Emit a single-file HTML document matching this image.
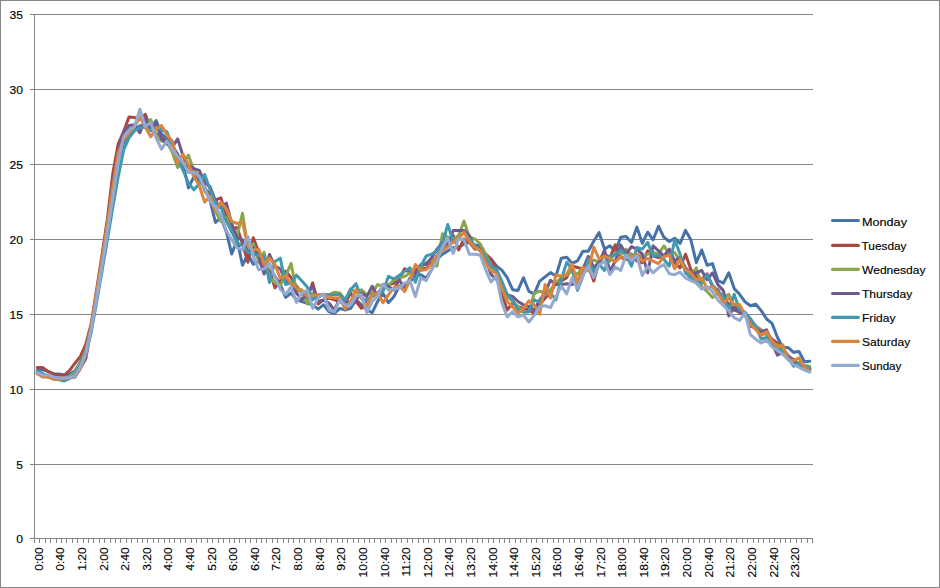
<!DOCTYPE html>
<html><head><meta charset="utf-8"><title>Chart</title>
<style>html,body{margin:0;padding:0;background:#fff}body{width:940px;height:588px;position:relative;overflow:hidden;font-family:"Liberation Sans",sans-serif}</style></head>
<body>
<svg width="940" height="588" viewBox="0 0 940 588" style="position:absolute;left:0;top:0;font-family:'Liberation Sans',sans-serif;font-size:11.4px">
<rect x="0" y="0" width="940" height="588" fill="#fff"/>
<g shape-rendering="crispEdges" fill="#868686">
<rect x="0" y="0" width="940" height="1"/><rect x="0" y="587" width="940" height="1"/><rect x="0" y="0" width="1" height="588"/><rect x="939" y="0" width="1" height="588"/>
<rect x="30" y="14" width="783" height="1"/>
<rect x="30" y="89" width="783" height="1"/>
<rect x="30" y="164" width="783" height="1"/>
<rect x="30" y="239" width="783" height="1"/>
<rect x="30" y="314" width="783" height="1"/>
<rect x="30" y="389" width="783" height="1"/>
<rect x="30" y="464" width="783" height="1"/>
<rect x="30" y="538" width="783" height="1"/>
<rect x="34" y="14" width="1" height="525"/>
<rect x="34" y="539" width="1" height="4"/>
<rect x="39" y="539" width="1" height="4"/>
<rect x="45" y="539" width="1" height="4"/>
<rect x="50" y="539" width="1" height="4"/>
<rect x="56" y="539" width="1" height="4"/>
<rect x="61" y="539" width="1" height="4"/>
<rect x="66" y="539" width="1" height="4"/>
<rect x="72" y="539" width="1" height="4"/>
<rect x="77" y="539" width="1" height="4"/>
<rect x="83" y="539" width="1" height="4"/>
<rect x="88" y="539" width="1" height="4"/>
<rect x="93" y="539" width="1" height="4"/>
<rect x="99" y="539" width="1" height="4"/>
<rect x="104" y="539" width="1" height="4"/>
<rect x="110" y="539" width="1" height="4"/>
<rect x="115" y="539" width="1" height="4"/>
<rect x="120" y="539" width="1" height="4"/>
<rect x="126" y="539" width="1" height="4"/>
<rect x="131" y="539" width="1" height="4"/>
<rect x="137" y="539" width="1" height="4"/>
<rect x="142" y="539" width="1" height="4"/>
<rect x="147" y="539" width="1" height="4"/>
<rect x="153" y="539" width="1" height="4"/>
<rect x="158" y="539" width="1" height="4"/>
<rect x="164" y="539" width="1" height="4"/>
<rect x="169" y="539" width="1" height="4"/>
<rect x="174" y="539" width="1" height="4"/>
<rect x="180" y="539" width="1" height="4"/>
<rect x="185" y="539" width="1" height="4"/>
<rect x="191" y="539" width="1" height="4"/>
<rect x="196" y="539" width="1" height="4"/>
<rect x="201" y="539" width="1" height="4"/>
<rect x="207" y="539" width="1" height="4"/>
<rect x="212" y="539" width="1" height="4"/>
<rect x="218" y="539" width="1" height="4"/>
<rect x="223" y="539" width="1" height="4"/>
<rect x="229" y="539" width="1" height="4"/>
<rect x="234" y="539" width="1" height="4"/>
<rect x="239" y="539" width="1" height="4"/>
<rect x="245" y="539" width="1" height="4"/>
<rect x="250" y="539" width="1" height="4"/>
<rect x="256" y="539" width="1" height="4"/>
<rect x="261" y="539" width="1" height="4"/>
<rect x="266" y="539" width="1" height="4"/>
<rect x="272" y="539" width="1" height="4"/>
<rect x="277" y="539" width="1" height="4"/>
<rect x="283" y="539" width="1" height="4"/>
<rect x="288" y="539" width="1" height="4"/>
<rect x="293" y="539" width="1" height="4"/>
<rect x="299" y="539" width="1" height="4"/>
<rect x="304" y="539" width="1" height="4"/>
<rect x="310" y="539" width="1" height="4"/>
<rect x="315" y="539" width="1" height="4"/>
<rect x="320" y="539" width="1" height="4"/>
<rect x="326" y="539" width="1" height="4"/>
<rect x="331" y="539" width="1" height="4"/>
<rect x="337" y="539" width="1" height="4"/>
<rect x="342" y="539" width="1" height="4"/>
<rect x="347" y="539" width="1" height="4"/>
<rect x="353" y="539" width="1" height="4"/>
<rect x="358" y="539" width="1" height="4"/>
<rect x="364" y="539" width="1" height="4"/>
<rect x="369" y="539" width="1" height="4"/>
<rect x="374" y="539" width="1" height="4"/>
<rect x="380" y="539" width="1" height="4"/>
<rect x="385" y="539" width="1" height="4"/>
<rect x="391" y="539" width="1" height="4"/>
<rect x="396" y="539" width="1" height="4"/>
<rect x="401" y="539" width="1" height="4"/>
<rect x="407" y="539" width="1" height="4"/>
<rect x="412" y="539" width="1" height="4"/>
<rect x="418" y="539" width="1" height="4"/>
<rect x="423" y="539" width="1" height="4"/>
<rect x="428" y="539" width="1" height="4"/>
<rect x="434" y="539" width="1" height="4"/>
<rect x="439" y="539" width="1" height="4"/>
<rect x="445" y="539" width="1" height="4"/>
<rect x="450" y="539" width="1" height="4"/>
<rect x="455" y="539" width="1" height="4"/>
<rect x="461" y="539" width="1" height="4"/>
<rect x="466" y="539" width="1" height="4"/>
<rect x="472" y="539" width="1" height="4"/>
<rect x="477" y="539" width="1" height="4"/>
<rect x="482" y="539" width="1" height="4"/>
<rect x="488" y="539" width="1" height="4"/>
<rect x="493" y="539" width="1" height="4"/>
<rect x="499" y="539" width="1" height="4"/>
<rect x="504" y="539" width="1" height="4"/>
<rect x="509" y="539" width="1" height="4"/>
<rect x="515" y="539" width="1" height="4"/>
<rect x="520" y="539" width="1" height="4"/>
<rect x="526" y="539" width="1" height="4"/>
<rect x="531" y="539" width="1" height="4"/>
<rect x="536" y="539" width="1" height="4"/>
<rect x="542" y="539" width="1" height="4"/>
<rect x="547" y="539" width="1" height="4"/>
<rect x="553" y="539" width="1" height="4"/>
<rect x="558" y="539" width="1" height="4"/>
<rect x="563" y="539" width="1" height="4"/>
<rect x="569" y="539" width="1" height="4"/>
<rect x="574" y="539" width="1" height="4"/>
<rect x="580" y="539" width="1" height="4"/>
<rect x="585" y="539" width="1" height="4"/>
<rect x="590" y="539" width="1" height="4"/>
<rect x="596" y="539" width="1" height="4"/>
<rect x="601" y="539" width="1" height="4"/>
<rect x="607" y="539" width="1" height="4"/>
<rect x="612" y="539" width="1" height="4"/>
<rect x="618" y="539" width="1" height="4"/>
<rect x="623" y="539" width="1" height="4"/>
<rect x="628" y="539" width="1" height="4"/>
<rect x="634" y="539" width="1" height="4"/>
<rect x="639" y="539" width="1" height="4"/>
<rect x="645" y="539" width="1" height="4"/>
<rect x="650" y="539" width="1" height="4"/>
<rect x="655" y="539" width="1" height="4"/>
<rect x="661" y="539" width="1" height="4"/>
<rect x="666" y="539" width="1" height="4"/>
<rect x="672" y="539" width="1" height="4"/>
<rect x="677" y="539" width="1" height="4"/>
<rect x="682" y="539" width="1" height="4"/>
<rect x="688" y="539" width="1" height="4"/>
<rect x="693" y="539" width="1" height="4"/>
<rect x="699" y="539" width="1" height="4"/>
<rect x="704" y="539" width="1" height="4"/>
<rect x="709" y="539" width="1" height="4"/>
<rect x="715" y="539" width="1" height="4"/>
<rect x="720" y="539" width="1" height="4"/>
<rect x="726" y="539" width="1" height="4"/>
<rect x="731" y="539" width="1" height="4"/>
<rect x="736" y="539" width="1" height="4"/>
<rect x="742" y="539" width="1" height="4"/>
<rect x="747" y="539" width="1" height="4"/>
<rect x="753" y="539" width="1" height="4"/>
<rect x="758" y="539" width="1" height="4"/>
<rect x="763" y="539" width="1" height="4"/>
<rect x="769" y="539" width="1" height="4"/>
<rect x="774" y="539" width="1" height="4"/>
<rect x="780" y="539" width="1" height="4"/>
<rect x="785" y="539" width="1" height="4"/>
<rect x="790" y="539" width="1" height="4"/>
<rect x="796" y="539" width="1" height="4"/>
<rect x="801" y="539" width="1" height="4"/>
<rect x="807" y="539" width="1" height="4"/>
<rect x="812" y="539" width="1" height="4"/>
</g>
<g fill="#000" stroke="#000" stroke-width="0.15" text-anchor="end">
<text transform="translate(23,18.6) scale(1.06,1)">35</text>
<text transform="translate(23,93.6) scale(1.06,1)">30</text>
<text transform="translate(23,168.6) scale(1.06,1)">25</text>
<text transform="translate(23,243.6) scale(1.06,1)">20</text>
<text transform="translate(23,318.6) scale(1.06,1)">15</text>
<text transform="translate(23,393.6) scale(1.06,1)">10</text>
<text transform="translate(23,468.6) scale(1.06,1)">5</text>
<text transform="translate(23,542.6) scale(1.06,1)">0</text>
</g>
<g fill="#000" stroke="#000" stroke-width="0.15" text-anchor="end">
<text transform="translate(42.7,547.3) rotate(-90) scale(1.06,1)">0:00</text>
<text transform="translate(64.3,547.3) rotate(-90) scale(1.06,1)">0:40</text>
<text transform="translate(85.9,547.3) rotate(-90) scale(1.06,1)">1:20</text>
<text transform="translate(107.5,547.3) rotate(-90) scale(1.06,1)">2:00</text>
<text transform="translate(129.1,547.3) rotate(-90) scale(1.06,1)">2:40</text>
<text transform="translate(150.8,547.3) rotate(-90) scale(1.06,1)">3:20</text>
<text transform="translate(172.4,547.3) rotate(-90) scale(1.06,1)">4:00</text>
<text transform="translate(194.0,547.3) rotate(-90) scale(1.06,1)">4:40</text>
<text transform="translate(215.6,547.3) rotate(-90) scale(1.06,1)">5:20</text>
<text transform="translate(237.2,547.3) rotate(-90) scale(1.06,1)">6:00</text>
<text transform="translate(258.8,547.3) rotate(-90) scale(1.06,1)">6:40</text>
<text transform="translate(280.4,547.3) rotate(-90) scale(1.06,1)">7:20</text>
<text transform="translate(302.0,547.3) rotate(-90) scale(1.06,1)">8:00</text>
<text transform="translate(323.6,547.3) rotate(-90) scale(1.06,1)">8:40</text>
<text transform="translate(345.3,547.3) rotate(-90) scale(1.06,1)">9:20</text>
<text transform="translate(366.9,547.3) rotate(-90) scale(1.06,1)">10:00</text>
<text transform="translate(388.5,547.3) rotate(-90) scale(1.06,1)">10:40</text>
<text transform="translate(410.1,547.3) rotate(-90) scale(1.06,1)">11:20</text>
<text transform="translate(431.7,547.3) rotate(-90) scale(1.06,1)">12:00</text>
<text transform="translate(453.3,547.3) rotate(-90) scale(1.06,1)">12:40</text>
<text transform="translate(474.9,547.3) rotate(-90) scale(1.06,1)">13:20</text>
<text transform="translate(496.5,547.3) rotate(-90) scale(1.06,1)">14:00</text>
<text transform="translate(518.1,547.3) rotate(-90) scale(1.06,1)">14:40</text>
<text transform="translate(539.8,547.3) rotate(-90) scale(1.06,1)">15:20</text>
<text transform="translate(561.4,547.3) rotate(-90) scale(1.06,1)">16:00</text>
<text transform="translate(583.0,547.3) rotate(-90) scale(1.06,1)">16:40</text>
<text transform="translate(604.6,547.3) rotate(-90) scale(1.06,1)">17:20</text>
<text transform="translate(626.2,547.3) rotate(-90) scale(1.06,1)">18:00</text>
<text transform="translate(647.8,547.3) rotate(-90) scale(1.06,1)">18:40</text>
<text transform="translate(669.4,547.3) rotate(-90) scale(1.06,1)">19:20</text>
<text transform="translate(691.0,547.3) rotate(-90) scale(1.06,1)">20:00</text>
<text transform="translate(712.6,547.3) rotate(-90) scale(1.06,1)">20:40</text>
<text transform="translate(734.3,547.3) rotate(-90) scale(1.06,1)">21:20</text>
<text transform="translate(755.9,547.3) rotate(-90) scale(1.06,1)">22:00</text>
<text transform="translate(777.5,547.3) rotate(-90) scale(1.06,1)">22:40</text>
<text transform="translate(799.1,547.3) rotate(-90) scale(1.06,1)">23:20</text>
</g>
<g fill="none" stroke-width="3" stroke-linejoin="round" stroke-linecap="round">
<polyline stroke="#4572A7" points="37.2,370.4 42.6,369.8 48.0,371.4 53.4,373.7 58.8,374.0 64.2,374.7 69.6,374.3 75.0,370.8 80.4,362.0 85.8,348.8 91.2,328.2 96.6,296.0 102.0,263.0 107.4,228.6 112.8,191.0 118.2,160.3 123.6,143.0 129.0,134.9 134.5,129.8 139.9,125.6 145.3,127.7 150.7,128.7 156.1,120.5 161.5,133.8 166.9,138.9 172.3,146.1 177.7,154.2 183.1,164.4 188.5,187.9 193.9,176.6 199.3,180.8 204.7,186.7 210.1,201.0 215.5,222.5 220.9,217.4 226.3,231.6 231.7,254.0 237.1,239.8 242.5,265.3 247.9,254.0 253.3,264.2 258.7,261.2 264.1,269.3 269.5,272.5 274.9,276.1 280.3,284.6 285.7,297.3 291.1,293.0 296.5,299.9 301.9,301.5 307.3,303.3 312.7,304.9 318.1,309.1 323.5,304.9 329.0,311.7 334.4,313.5 339.8,308.4 345.2,310.0 350.6,308.4 356.0,299.9 361.4,304.9 366.8,310.0 372.2,312.6 377.6,301.5 383.0,293.4 388.4,302.7 393.8,296.7 399.2,286.5 404.6,284.9 410.0,281.4 415.4,276.4 420.8,274.7 426.2,278.0 431.6,269.6 437.0,259.4 442.4,254.2 447.8,250.9 453.2,247.5 458.6,247.5 464.0,244.0 469.4,242.4 474.8,244.9 480.2,245.8 485.6,254.2 491.0,259.0 496.4,265.9 501.8,270.1 507.2,277.7 512.6,289.7 518.0,290.4 523.5,277.7 528.9,291.3 534.3,293.9 539.7,281.1 545.1,276.8 550.5,272.6 555.9,276.1 561.3,258.2 566.7,257.3 572.1,263.3 577.5,260.8 582.9,251.3 588.3,251.3 593.7,241.2 599.1,232.6 604.5,249.1 609.9,245.8 615.3,250.9 620.7,237.3 626.1,236.4 631.5,242.4 636.9,227.1 642.3,243.3 647.7,232.2 653.1,239.8 658.5,226.2 663.9,237.3 669.3,241.5 674.7,238.2 680.1,243.3 685.5,230.4 690.9,239.8 696.3,262.7 701.7,250.0 707.1,265.3 712.5,263.6 718.0,280.7 723.4,283.1 728.8,272.8 734.2,288.6 739.6,294.3 745.0,301.8 750.4,305.8 755.8,304.2 761.2,310.6 766.6,319.0 772.0,323.4 777.4,337.3 782.8,347.6 788.2,347.6 793.6,352.3 799.0,351.4 804.4,361.7 809.8,361.2"/>
<polyline stroke="#AA4643" points="37.2,367.5 42.6,367.5 48.0,371.4 53.4,374.3 58.8,375.3 64.2,375.3 69.6,370.4 75.0,363.2 80.4,356.4 85.8,344.3 91.2,323.7 96.6,289.7 102.0,254.9 107.4,218.7 112.8,173.6 118.2,144.0 123.6,131.7 129.0,117.1 134.5,117.5 139.9,119.6 145.3,114.4 150.7,127.7 156.1,133.8 161.5,137.9 166.9,142.1 172.3,148.0 177.7,156.3 183.1,165.4 188.5,166.5 193.9,174.7 199.3,176.6 204.7,188.8 210.1,193.9 215.5,200.0 220.9,197.9 226.3,215.3 231.7,228.6 237.1,227.5 242.5,243.9 247.9,262.3 253.3,237.7 258.7,252.1 264.1,264.2 269.5,270.4 274.9,287.9 280.3,281.1 285.7,271.0 291.1,277.7 296.5,286.2 301.9,293.0 307.3,298.1 312.7,282.8 318.1,304.0 323.5,299.9 329.0,298.1 334.4,299.9 339.8,301.5 345.2,303.3 350.6,293.0 356.0,301.5 361.4,308.4 366.8,299.9 372.2,296.4 377.6,293.0 383.0,287.9 388.4,284.9 393.8,283.2 399.2,279.8 404.6,268.7 410.0,272.9 415.4,269.6 420.8,267.8 426.2,268.7 431.6,262.7 437.0,256.0 442.4,247.5 447.8,244.0 453.2,235.5 458.6,250.0 464.0,238.9 469.4,242.4 474.8,249.1 480.2,249.1 485.6,254.2 491.0,259.0 496.4,269.2 501.8,293.0 507.2,310.0 512.6,303.3 518.0,306.6 523.5,308.4 528.9,310.0 534.3,313.5 539.7,304.9 545.1,298.1 550.5,293.0 555.9,282.8 561.3,281.1 566.7,277.7 572.1,265.9 577.5,267.5 582.9,269.2 588.3,265.9 593.7,281.1 599.1,262.4 604.5,254.2 609.9,257.6 615.3,244.9 620.7,257.6 626.1,259.4 631.5,254.2 636.9,261.1 642.3,262.7 647.7,250.9 653.1,256.0 658.5,257.6 663.9,256.0 669.3,254.2 674.7,262.7 680.1,267.8 685.5,254.2 690.9,269.6 696.3,276.4 701.7,279.8 707.1,273.8 712.5,286.5 718.0,290.0 723.4,299.9 728.8,303.6 734.2,310.2 739.6,312.1 745.0,314.8 750.4,326.1 755.8,328.0 761.2,331.7 766.6,332.6 772.0,339.2 777.4,343.0 782.8,348.5 788.2,356.0 793.6,359.7 799.0,363.5 804.4,367.2 809.8,369.2"/>
<polyline stroke="#89A54E" points="37.2,373.1 42.6,375.9 48.0,377.0 53.4,378.6 58.8,378.6 64.2,379.2 69.6,376.4 75.0,372.0 80.4,363.2 85.8,349.9 91.2,326.2 96.6,293.3 102.0,259.7 107.4,224.5 112.8,184.9 118.2,154.2 123.6,138.9 129.0,129.8 134.5,125.6 139.9,117.5 145.3,123.6 150.7,119.6 156.1,134.9 161.5,141.0 166.9,142.1 172.3,152.2 177.7,167.5 183.1,162.4 188.5,155.2 193.9,170.5 199.3,175.6 204.7,190.9 210.1,198.9 215.5,211.2 220.9,221.4 226.3,217.4 231.7,231.6 237.1,235.8 242.5,213.3 247.9,247.9 253.3,243.6 258.7,261.5 264.1,252.2 269.5,278.0 274.9,282.5 280.3,285.5 285.7,276.1 291.1,263.3 296.5,291.3 301.9,289.7 307.3,304.0 312.7,293.0 318.1,296.4 323.5,294.8 329.0,294.8 334.4,292.2 339.8,293.0 345.2,299.9 350.6,288.8 356.0,293.0 361.4,289.7 366.8,294.8 372.2,293.0 377.6,284.6 383.0,286.5 388.4,285.5 393.8,279.8 399.2,278.0 404.6,276.4 410.0,272.9 415.4,272.9 420.8,267.8 426.2,262.7 431.6,259.4 437.0,266.2 442.4,233.8 447.8,237.3 453.2,238.9 458.6,235.5 464.0,221.1 469.4,237.3 474.8,238.9 480.2,244.0 485.6,254.2 491.0,266.2 496.4,272.9 501.8,289.7 507.2,296.4 512.6,301.5 518.0,306.6 523.5,312.6 528.9,311.7 534.3,293.0 539.7,291.3 545.1,293.0 550.5,289.7 555.9,282.8 561.3,277.7 566.7,275.2 572.1,271.0 577.5,274.3 582.9,267.5 588.3,264.1 593.7,259.9 599.1,262.4 604.5,256.0 609.9,261.1 615.3,252.5 620.7,254.2 626.1,249.1 631.5,256.0 636.9,254.2 642.3,257.6 647.7,254.2 653.1,252.5 658.5,254.2 663.9,245.8 669.3,254.2 674.7,252.5 680.1,261.1 685.5,269.6 690.9,276.4 696.3,267.8 701.7,286.5 707.1,291.6 712.5,297.6 718.0,293.4 723.4,298.1 728.8,294.3 734.2,305.5 739.6,311.1 745.0,314.8 750.4,322.3 755.8,326.1 761.2,329.8 766.6,335.5 772.0,343.0 777.4,344.8 782.8,350.5 788.2,356.0 793.6,361.7 799.0,362.6 804.4,365.4 809.8,366.3"/>
<polyline stroke="#71588F" points="37.2,373.7 42.6,374.7 48.0,375.9 53.4,377.6 58.8,378.6 64.2,378.6 69.6,377.7 75.0,377.0 80.4,368.1 85.8,358.7 91.2,328.9 96.6,297.0 102.0,264.4 107.4,230.2 112.8,182.8 118.2,152.2 123.6,132.2 129.0,125.6 134.5,124.7 139.9,132.8 145.3,117.8 150.7,130.5 156.1,122.9 161.5,138.8 166.9,144.0 172.3,147.1 177.7,138.9 183.1,156.3 188.5,165.4 193.9,168.6 199.3,170.4 204.7,182.6 210.1,186.7 215.5,201.0 220.9,208.1 226.3,203.0 231.7,223.5 237.1,237.7 242.5,239.8 247.9,252.1 253.3,247.9 258.7,256.1 264.1,274.0 269.5,254.5 274.9,266.0 280.3,269.0 285.7,281.0 291.1,282.8 296.5,293.0 301.9,299.9 307.3,293.0 312.7,286.2 318.1,301.5 323.5,299.9 329.0,303.3 334.4,310.0 339.8,298.1 345.2,301.5 350.6,302.4 356.0,299.9 361.4,293.0 366.8,296.4 372.2,286.2 377.6,296.4 383.0,284.6 388.4,286.5 393.8,290.0 399.2,279.8 404.6,288.3 410.0,278.0 415.4,272.9 420.8,264.5 426.2,264.5 431.6,257.6 437.0,249.1 442.4,242.4 447.8,245.8 453.2,230.4 458.6,230.4 464.0,230.4 469.4,235.5 474.8,247.5 480.2,249.1 485.6,259.4 491.0,274.3 496.4,279.5 501.8,282.8 507.2,294.8 512.6,296.4 518.0,301.5 523.5,304.9 528.9,306.6 534.3,310.0 539.7,299.9 545.1,293.0 550.5,280.2 555.9,284.6 561.3,284.6 566.7,283.7 572.1,284.6 577.5,281.1 582.9,269.2 588.3,256.4 593.7,267.5 599.1,262.4 604.5,250.0 609.9,271.3 615.3,261.1 620.7,244.9 626.1,254.2 631.5,246.6 636.9,249.1 642.3,254.2 647.7,272.9 653.1,245.8 658.5,250.9 663.9,256.0 669.3,249.1 674.7,261.1 680.1,257.6 685.5,267.8 690.9,272.9 696.3,272.9 701.7,270.4 707.1,279.8 712.5,272.9 718.0,284.9 723.4,290.6 728.8,315.9 734.2,307.3 739.6,313.0 745.0,313.9 750.4,322.3 755.8,328.0 761.2,331.7 766.6,329.8 772.0,343.0 777.4,355.1 782.8,352.3 788.2,356.0 793.6,361.7 799.0,365.4 804.4,367.2 809.8,369.2"/>
<polyline stroke="#4198AF" points="37.2,371.4 42.6,373.7 48.0,376.4 53.4,379.2 58.8,379.7 64.2,381.0 69.6,378.6 75.0,374.3 80.4,365.3 85.8,352.1 91.2,332.6 96.6,302.3 102.0,271.3 107.4,239.8 112.8,207.6 118.2,176.6 123.6,150.1 129.0,137.9 134.5,130.8 139.9,127.7 145.3,126.6 150.7,130.8 156.1,127.7 161.5,129.8 166.9,131.7 172.3,146.1 177.7,158.4 183.1,170.5 188.5,182.8 193.9,189.8 199.3,183.7 204.7,174.5 210.1,189.8 215.5,203.0 220.9,207.2 226.3,221.4 231.7,231.6 237.1,242.8 242.5,246.0 247.9,252.1 253.3,254.3 258.7,255.5 264.1,256.1 269.5,282.5 274.9,261.5 280.3,258.2 285.7,284.6 291.1,282.8 296.5,275.2 301.9,281.1 307.3,287.1 312.7,299.9 318.1,294.8 323.5,294.8 329.0,294.8 334.4,294.8 339.8,294.8 345.2,299.9 350.6,289.7 356.0,283.7 361.4,298.1 366.8,299.9 372.2,296.4 377.6,293.0 383.0,291.6 388.4,276.4 393.8,278.9 399.2,275.5 404.6,271.3 410.0,267.8 415.4,282.3 420.8,266.2 426.2,256.0 431.6,254.2 437.0,250.9 442.4,244.0 447.8,224.5 453.2,241.5 458.6,238.2 464.0,232.2 469.4,238.9 474.8,245.8 480.2,250.9 485.6,257.6 491.0,265.9 496.4,269.2 501.8,281.1 507.2,294.8 512.6,299.9 518.0,310.0 523.5,311.7 528.9,311.7 534.3,299.9 539.7,302.4 545.1,293.0 550.5,293.0 555.9,299.9 561.3,279.5 566.7,262.4 572.1,269.2 577.5,290.4 582.9,276.1 588.3,259.0 593.7,272.6 599.1,264.1 604.5,270.4 609.9,256.0 615.3,255.1 620.7,250.0 626.1,255.1 631.5,266.2 636.9,247.5 642.3,249.1 647.7,242.4 653.1,256.0 658.5,255.1 663.9,259.4 669.3,266.2 674.7,239.8 680.1,254.2 685.5,272.9 690.9,278.0 696.3,281.4 701.7,283.2 707.1,274.7 712.5,284.9 718.0,291.6 723.4,296.1 728.8,310.2 734.2,294.3 739.6,310.2 745.0,312.1 750.4,318.6 755.8,326.1 761.2,339.2 766.6,337.3 772.0,343.0 777.4,346.7 782.8,352.3 788.2,357.9 793.6,366.3 799.0,363.5 804.4,366.3 809.8,368.3"/>
<polyline stroke="#DB843D" points="37.2,373.4 42.6,377.0 48.0,377.0 53.4,379.2 58.8,379.2 64.2,378.6 69.6,378.0 75.0,376.4 80.4,368.7 85.8,354.8 91.2,326.7 96.6,293.9 102.0,260.3 107.4,225.3 112.8,186.8 118.2,153.1 123.6,140.0 129.0,132.8 134.5,126.6 139.9,116.8 145.3,126.8 150.7,136.8 156.1,128.7 161.5,125.6 166.9,134.9 172.3,141.0 177.7,162.4 183.1,154.2 188.5,164.4 193.9,176.6 199.3,185.8 204.7,202.1 210.1,196.0 215.5,211.2 220.9,202.1 226.3,209.1 231.7,221.4 237.1,223.5 242.5,222.5 247.9,246.0 253.3,250.0 258.7,249.0 264.1,264.5 269.5,258.1 274.9,264.5 280.3,278.1 285.7,276.1 291.1,283.7 296.5,287.9 301.9,291.3 307.3,296.4 312.7,295.5 318.1,294.8 323.5,294.8 329.0,297.3 334.4,298.1 339.8,298.1 345.2,309.1 350.6,301.5 356.0,289.7 361.4,298.1 366.8,306.6 372.2,294.8 377.6,293.0 383.0,302.8 388.4,294.8 393.8,287.7 399.2,285.8 404.6,291.6 410.0,279.8 415.4,264.5 420.8,270.4 426.2,269.6 431.6,264.5 437.0,256.0 442.4,250.9 447.8,246.6 453.2,242.4 458.6,238.2 464.0,232.2 469.4,241.5 474.8,247.5 480.2,250.0 485.6,262.7 491.0,271.0 496.4,273.5 501.8,287.9 507.2,301.5 512.6,306.6 518.0,313.5 523.5,308.4 528.9,300.8 534.3,304.9 539.7,314.2 545.1,284.6 550.5,298.1 555.9,275.2 561.3,276.1 566.7,274.3 572.1,264.1 577.5,282.8 582.9,267.5 588.3,271.0 593.7,247.2 599.1,259.0 604.5,256.0 609.9,258.5 615.3,262.0 620.7,256.7 626.1,257.6 631.5,257.6 636.9,254.2 642.3,261.1 647.7,258.5 653.1,261.1 658.5,263.6 663.9,256.7 669.3,255.1 674.7,268.7 680.1,259.4 685.5,269.6 690.9,272.9 696.3,279.8 701.7,278.0 707.1,288.3 712.5,286.5 718.0,293.4 723.4,302.7 728.8,298.1 734.2,304.6 739.6,304.6 745.0,314.8 750.4,324.3 755.8,329.8 761.2,335.5 766.6,331.7 772.0,341.0 777.4,346.7 782.8,344.8 788.2,359.7 793.6,360.8 799.0,357.9 804.4,367.2 809.8,371.0"/>
<polyline stroke="#93A9CF" points="37.2,372.5 42.6,375.3 48.0,374.7 53.4,377.0 58.8,378.0 64.2,378.0 69.6,377.6 75.0,375.9 80.4,366.5 85.8,353.2 91.2,329.9 96.6,298.7 102.0,266.5 107.4,232.6 112.8,198.0 118.2,162.4 123.6,136.7 129.0,130.5 134.5,126.5 139.9,109.3 145.3,126.6 150.7,122.6 156.1,137.9 161.5,149.1 166.9,141.0 172.3,150.1 177.7,156.3 183.1,162.4 188.5,172.6 193.9,172.4 199.3,176.5 204.7,187.7 210.1,201.0 215.5,207.2 220.9,215.3 226.3,230.5 231.7,239.8 237.1,247.9 242.5,250.0 247.9,236.7 253.3,256.1 258.7,269.8 264.1,269.0 269.5,263.0 274.9,276.5 280.3,289.2 285.7,294.5 291.1,287.0 296.5,302.4 301.9,293.0 307.3,290.4 312.7,308.4 318.1,298.1 323.5,293.9 329.0,310.0 334.4,311.7 339.8,299.9 345.2,304.9 350.6,304.9 356.0,296.4 361.4,294.8 366.8,312.6 372.2,301.5 377.6,296.4 383.0,284.0 388.4,290.0 393.8,289.1 399.2,288.3 404.6,283.2 410.0,280.7 415.4,296.7 420.8,278.0 426.2,280.7 431.6,269.6 437.0,261.1 442.4,247.5 447.8,238.2 453.2,253.4 458.6,238.9 464.0,239.8 469.4,254.2 474.8,254.2 480.2,255.1 485.6,269.6 491.0,282.0 496.4,276.1 501.8,302.4 507.2,316.8 512.6,311.7 518.0,316.8 523.5,315.1 528.9,322.0 534.3,315.1 539.7,306.6 545.1,305.8 550.5,307.5 555.9,296.4 561.3,286.2 566.7,293.9 572.1,277.7 577.5,288.8 582.9,276.1 588.3,265.9 593.7,277.7 599.1,265.0 604.5,261.1 609.9,274.7 615.3,267.1 620.7,270.4 626.1,255.1 631.5,260.2 636.9,256.0 642.3,275.5 647.7,266.2 653.1,272.9 658.5,267.8 663.9,264.5 669.3,273.8 674.7,274.7 680.1,272.2 685.5,278.0 690.9,280.7 696.3,283.2 701.7,289.1 707.1,286.5 712.5,291.6 718.0,300.2 723.4,305.5 728.8,311.1 734.2,317.7 739.6,320.5 745.0,313.0 750.4,334.6 755.8,339.2 761.2,343.0 766.6,340.1 772.0,346.7 777.4,350.5 782.8,354.2 788.2,359.7 793.6,364.5 799.0,367.2 804.4,370.1 809.8,372.0"/>
</g>
<g stroke-width="3.2" stroke-linecap="round">
<line x1="832.6" y1="220.5" x2="858.4" y2="220.5" stroke="#4572A7"/>
<line x1="832.6" y1="245.4" x2="858.4" y2="245.4" stroke="#AA4643"/>
<line x1="832.6" y1="269.4" x2="858.4" y2="269.4" stroke="#89A54E"/>
<line x1="832.6" y1="293.5" x2="858.4" y2="293.5" stroke="#71588F"/>
<line x1="832.6" y1="317.4" x2="858.4" y2="317.4" stroke="#4198AF"/>
<line x1="832.6" y1="341.4" x2="858.4" y2="341.4" stroke="#DB843D"/>
<line x1="832.6" y1="365.4" x2="858.4" y2="365.4" stroke="#93A9CF"/>
</g>
<g fill="#000" stroke="#000" stroke-width="0.15">
<text transform="translate(862,226.0) scale(1.11,1)">Monday</text>
<text transform="translate(861.5,250.0) scale(1.04,1)">Tuesday</text>
<text transform="translate(862,274.0) scale(1.06,1)">Wednesday</text>
<text transform="translate(862,298.0) scale(1.06,1)">Thursday</text>
<text transform="translate(862,322.0) scale(1.06,1)">Friday</text>
<text transform="translate(862,346.0) scale(1.06,1)">Saturday</text>
<text transform="translate(862,370.0) scale(1.02,1)">Sunday</text>
</g>
</svg>
</body></html>
